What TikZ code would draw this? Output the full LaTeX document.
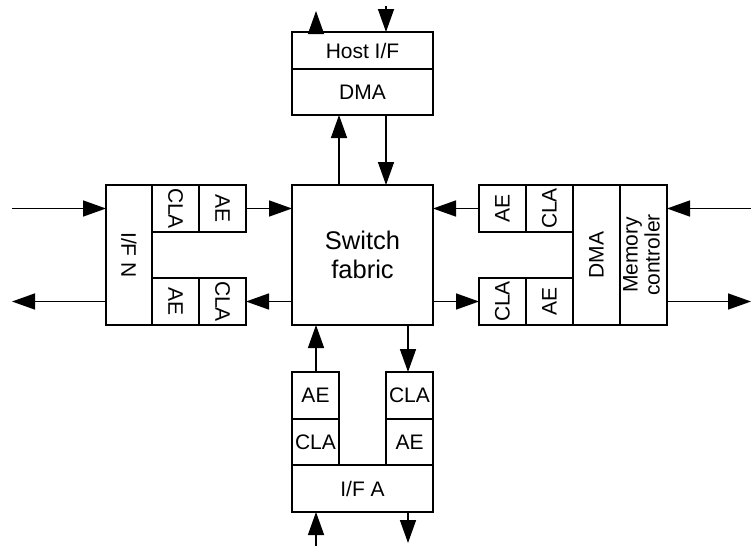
\documentclass[tikz,border=0pt]{standalone}
\usepackage{fontspec}
\setmainfont{Liberation Sans}
\usetikzlibrary{arrows.meta}
\begin{document}
\begin{tikzpicture}[x=1pt,y=-1pt,
  box/.style={draw,line width=1.5pt,inner sep=0pt,outer sep=0pt,
    font=\fontsize{21pt}{25pt}\selectfont,align=center},
  sq/.style={box,minimum width=47pt,minimum height=47pt},
  arr/.style={line width=1.5pt,-{Triangle[length=23pt,width=16pt]}}]
\useasboundingbox (0,0) rectangle (751,546);
% top
\node[box,minimum width=141pt,minimum height=37pt] (host) at (362.5,50.5) {Host I/F};
\node[box,minimum width=141pt,minimum height=46pt] (dmaT) at (362.5,92) {DMA};
% switch
\node[box,minimum width=141pt,minimum height=140pt,font=\fontsize{25.5pt}{29pt}\selectfont] (sw) at (362.5,255) {Switch\\fabric};
% left
\node[box,minimum width=46pt,minimum height=140pt] (ifn) at (129,255) {\rotatebox{-90}{I/F N}};
\node[sq] (claL1) at (175.5,208.5) {\rotatebox{-90}{CLA}};
\node[sq] (aeL1) at (222.5,208.5) {\rotatebox{-90}{AE}};
\node[sq] (aeL2) at (175.5,301.5) {\rotatebox{-90}{AE}};
\node[sq] (claL2) at (222.5,301.5) {\rotatebox{-90}{CLA}};
% right
\node[sq] (aeR1) at (502.5,208.5) {\rotatebox{90}{AE}};
\node[sq] (claR1) at (549.5,208.5) {\rotatebox{90}{CLA}};
\node[sq] (claR2) at (502.5,301.5) {\rotatebox{90}{CLA}};
\node[sq] (aeR2) at (549.5,301.5) {\rotatebox{90}{AE}};
\node[box,minimum width=47pt,minimum height=140pt] (dmaR) at (596.5,255) {\rotatebox{90}{DMA}};
\node[box,minimum width=47pt,minimum height=140pt] (mem) at (643.5,255) {\rotatebox{90}{\begin{tabular}{@{}c@{}}Memory\\[-3pt]controler\end{tabular}}};
% bottom
\node[sq] (aeB1) at (315.5,395.5) {AE};
\node[sq,minimum height=46pt] (claB1) at (315.5,442) {CLA};
\node[sq] (claB2) at (409.5,395.5) {CLA};
\node[sq,minimum height=46pt] (aeB2) at (409.5,442) {AE};
\node[box,minimum width=141pt,minimum height=47pt] (ifa) at (362.5,488.5) {I/F A};
% free ends
\coordinate (tUp) at (316,11);
\coordinate (tUpB) at (316,32);
\coordinate (tDn) at (386,6);
\coordinate (lIn) at (12,208.5);
\coordinate (lOut) at (12,301.5);
\coordinate (rIn) at (751,208.5);
\coordinate (rOut) at (751,301.5);
\coordinate (bUp) at (316,546);
\coordinate (bDn) at (408,543);
\coordinate (mUp) at (339,0);
\coordinate (mDn) at (386,0);
% top arrows
\draw[arr] (tUpB |- host.north) -- (tUp);
\draw[arr] (tDn) -- (tDn |- host.north);
\draw[arr] (sw.north -| mUp) -- (dmaT.south -| mUp);
\draw[arr] (dmaT.south -| mDn) -- (sw.north -| mDn);
% left arrows
\draw[arr] (lIn) -- (lIn -| ifn.west);
\draw[arr] (aeL1.east) -- (aeL1.east -| sw.west);
\draw[arr] (claL2.east -| sw.west) -- (claL2.east);
\draw[arr] (lOut -| ifn.west) -- (lOut);
% right arrows
\draw[arr] (aeR1.west) -- (aeR1.west -| sw.east);
\draw[arr] (claR2.west -| sw.east) -- (claR2.west);
\draw[arr] (rIn) -- (rIn -| mem.east);
\draw[arr] (rOut -| mem.east) -- (rOut);
% bottom arrows
\draw[arr] (aeB1.north -| bUp) -- (sw.south -| bUp);
\draw[arr] (sw.south -| bDn) -- (claB2.north -| bDn);
\draw[arr] (bUp) -- (ifa.south -| bUp);
\draw[arr] (ifa.south -| bDn) -- (bDn);
\end{tikzpicture}
\end{document}
